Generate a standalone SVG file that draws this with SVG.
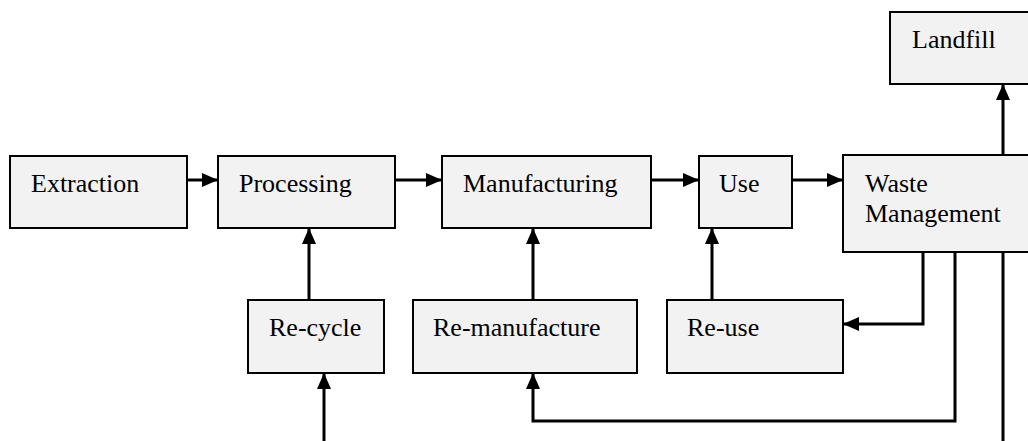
<svg xmlns="http://www.w3.org/2000/svg" width="1028" height="441" viewBox="0 0 1028 441">
<style>
.box{fill:#f2f2f2;stroke:#000;stroke-width:2}
.lbl{font-family:'Liberation Serif','Times New Roman','DejaVu Serif',serif;font-size:26px;fill:#000}
.c{fill:none;stroke:#000;stroke-width:3}
</style>
<defs>
<marker id="ah" markerUnits="userSpaceOnUse" markerWidth="16" markerHeight="14" refX="16" refY="7" orient="auto">
<path d="M0,0 L16,7 L0,14 Z" fill="#000"/>
</marker>
</defs>
<rect width="1028" height="441" fill="#fff"/>
<g id="extraction"><rect class="box" x="10" y="156" width="177" height="72"/><text class="lbl" x="31" y="192">Extraction</text></g>
<g id="processing"><rect class="box" x="218" y="156" width="177" height="72"/><text class="lbl" x="239" y="192">Processing</text></g>
<g id="manufacturing"><rect class="box" x="442" y="156" width="209" height="72"/><text class="lbl" x="463" y="192">Manufacturing</text></g>
<g id="use"><rect class="box" x="699" y="156" width="93" height="72"/><text class="lbl" x="719" y="192">Use</text></g>
<g id="waste"><rect class="box" x="843" y="155" width="186" height="97"/><text class="lbl" x="865" y="192">Waste</text><text class="lbl" x="865" y="222">Management</text></g>
<g id="landfill"><rect class="box" x="890" y="12" width="139" height="72"/><text class="lbl" x="912" y="48">Landfill</text></g>
<g id="recycle"><rect class="box" x="248" y="300" width="136" height="73"/><text class="lbl" x="269" y="336">Re-cycle</text></g>
<g id="remanufacture"><rect class="box" x="413" y="300" width="224" height="73"/><text class="lbl" x="433" y="336">Re-manufacture</text></g>
<g id="reuse"><rect class="box" x="667" y="300" width="176" height="73"/><text class="lbl" x="687" y="336">Re-use</text></g>
<g id="connectors">
<line class="c" x1="187" y1="180" x2="218" y2="180" marker-end="url(#ah)"/>
<line class="c" x1="395" y1="180" x2="442" y2="180" marker-end="url(#ah)"/>
<line class="c" x1="651" y1="180" x2="699" y2="180" marker-end="url(#ah)"/>
<line class="c" x1="792" y1="180" x2="843" y2="180" marker-end="url(#ah)"/>
<line class="c" x1="1003" y1="155" x2="1003" y2="84" marker-end="url(#ah)"/>
<line class="c" x1="309" y1="300" x2="309" y2="228" marker-end="url(#ah)"/>
<line class="c" x1="533" y1="300" x2="533" y2="228" marker-end="url(#ah)"/>
<line class="c" x1="712" y1="300" x2="712" y2="228" marker-end="url(#ah)"/>
<line class="c" x1="324" y1="441" x2="324" y2="373" marker-end="url(#ah)"/>
<polyline class="c" points="955,252 955,421 533,421 533,373" marker-end="url(#ah)"/>
<polyline class="c" points="923,252 923,324 843,324" marker-end="url(#ah)"/>
<line class="c" x1="1003" y1="252" x2="1003" y2="441"/>
</g>
</svg>
